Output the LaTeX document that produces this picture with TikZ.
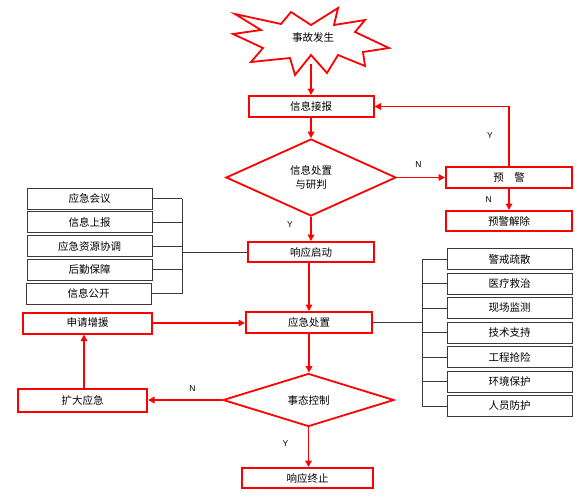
\documentclass[tikz,border=0pt]{standalone}
\usepackage{fontspec}
\setmainfont{Noto Sans CJK SC}
\newfontfamily\latinfont{Liberation Sans}
\usetikzlibrary{arrows.meta,shapes.geometric,positioning}
\definecolor{alarm}{HTML}{FF0000}
\definecolor{wire}{HTML}{3A3A3A}
\tikzset{
  font=\fontsize{10.5}{13.5}\selectfont,
  redbox/.style={draw=alarm, line width=2pt, minimum width=126pt, minimum height=21pt, inner sep=1pt},
  listbox/.style={draw=wire, line width=0.7pt, minimum width=125pt, minimum height=21pt, inner sep=1pt},
  decision/.style={diamond, draw=alarm, line width=1.8pt, inner sep=0pt, align=center},
  burst/.style={draw=alarm, line width=1.8pt, fill=white, line join=miter},
  flow/.style={-{Triangle[length=6.5pt,width=6.5pt]}, draw=alarm, line width=1.6pt},
  bus/.style={draw=wire, line width=0.7pt},
  yn/.style={font=\latinfont\fontsize{8.5}{9}\selectfont}
}
\begin{document}
\begin{tikzpicture}[x=1pt,y=-1pt]
  \fill[white] (0,0) rectangle (588,496);
  \useasboundingbox (0,0) rectangle (588,496);

  % accident burst
  \draw[burst] (235,14) -- (281,24) -- (291,12) -- (311,25) -- (338,8) -- (334,25)
    -- (365,20) -- (355,32) -- (389,48) -- (363,52) -- (365,66) -- (338,55)
    -- (327,73) -- (311,55) -- (295,75) -- (290,58) -- (251,62) -- (263,48)
    -- (233,34) -- (261,30) -- cycle;
  \node[minimum width=60pt, minimum height=52pt, inner sep=0pt] (accident) at (313,38) {事故发生};

  % main column
  \node[redbox, minimum width=125pt] (report) at (311,106.5) {信息接报};
  \node[decision, minimum width=170pt, minimum height=77pt] (judge) at (311,177.5) {信息处置\\与研判};
  \node[redbox] (warn) at (509,177) {预\quad 警};
  \node[redbox, minimum height=20pt] (lift) at (509,221) {预警解除};
  \node[redbox, minimum height=20pt] (start) at (311,252) {响应启动};
  \node[redbox] (handle) at (309,322.5) {应急处置};
  \node[decision, minimum width=171pt, minimum height=53pt] (control) at (308.5,400) {事态控制};
  \node[redbox, minimum width=131pt, minimum height=20pt] (finish) at (307.5,478) {响应终止};
  \node[redbox, minimum width=129pt] (apply) at (87.5,323) {申请增援};
  \node[redbox, minimum width=129pt, minimum height=23pt] (expand) at (82.5,400.5) {扩大应急};

  % left list
  \node[listbox] (meeting) at (89.5,198.5) {应急会议};
  \node[listbox] (upreport) at (89.5,222.3) {信息上报};
  \node[listbox] (resource) at (89.5,246) {应急资源协调};
  \node[listbox] (logistics) at (89.5,269.8) {后勤保障};
  \node[listbox] (publish) at (88.5,293.5) {信息公开};
  \coordinate (lbus) at (182,252);

  % right list
  \node[listbox] (guard) at (509.5,259) {警戒疏散};
  \node[listbox] (medical) at (509.5,283.5) {医疗救治};
  \node[listbox] (monitor) at (509.5,308) {现场监测};
  \node[listbox] (tech) at (509.5,332.5) {技术支持};
  \node[listbox] (repair) at (509.5,357) {工程抢险};
  \node[listbox] (environ) at (509.5,381.5) {环境保护};
  \node[listbox] (protect) at (509.5,406) {人员防护};
  \coordinate (rbus) at (422,322.5);

  % flow
  \draw[flow] (accident.south -| report) -- (report.north);
  \draw[flow] (report.south) -- (report.south |- judge.north);
  \draw[flow] (judge.east) -- (judge.east -| warn.west) node[yn, pos=0.45, above=6pt] (n1) {N};
  \draw[flow] (warn.north) |- (report.east) node[yn, pos=0.25, left=12pt] (y1) {Y};
  \draw[flow] (warn) -- (lift) node[yn, midway, left=13pt] (n2) {N};
  \draw[flow] (judge.south) -- (judge.south |- start.north) node[yn, pos=0.3, left=14pt] (y2) {Y};
  \draw[flow] (handle.north |- start.south) -- (handle.north);
  \draw[flow] (handle.south) -- (handle.south |- control.north);
  \draw[flow] (control.west) -- (expand.east |- control.west) node[yn, pos=0.4, above=4pt] (n3) {N};
  \draw[flow] (expand.north -| 84,0) -- (apply.south -| 84,0);
  \draw[flow] (apply.east) -- (apply.east -| handle.west);
  \draw[flow] (control.south) -- (control.south |- finish.north) node[yn, pos=0.4, left=16pt] (y3) {Y};

  % left bus
  \draw[bus] (meeting.east) -- (meeting.east -| lbus);
  \draw[bus] (upreport.east) -- (upreport.east -| lbus);
  \draw[bus] (resource.east) -- (resource.east -| lbus);
  \draw[bus] (logistics.east) -- (logistics.east -| lbus);
  \draw[bus] (publish.east) -- (publish.east -| lbus);
  \draw[bus] (meeting.east -| lbus) -- (publish.east -| lbus);
  \draw[bus] (lbus |- start) -- (start.west);

  % right bus
  \draw[bus] (guard.west -| rbus) -- (guard.west);
  \draw[bus] (medical.west -| rbus) -- (medical.west);
  \draw[bus] (monitor.west -| rbus) -- (monitor.west);
  \draw[bus] (tech.west -| rbus) -- (tech.west);
  \draw[bus] (repair.west -| rbus) -- (repair.west);
  \draw[bus] (environ.west -| rbus) -- (environ.west);
  \draw[bus] (protect.west -| rbus) -- (protect.west);
  \draw[bus] (guard.west -| rbus) -- (protect.west -| rbus);
  \draw[bus] (handle.east) -- (handle.east -| rbus);
\end{tikzpicture}
\end{document}
